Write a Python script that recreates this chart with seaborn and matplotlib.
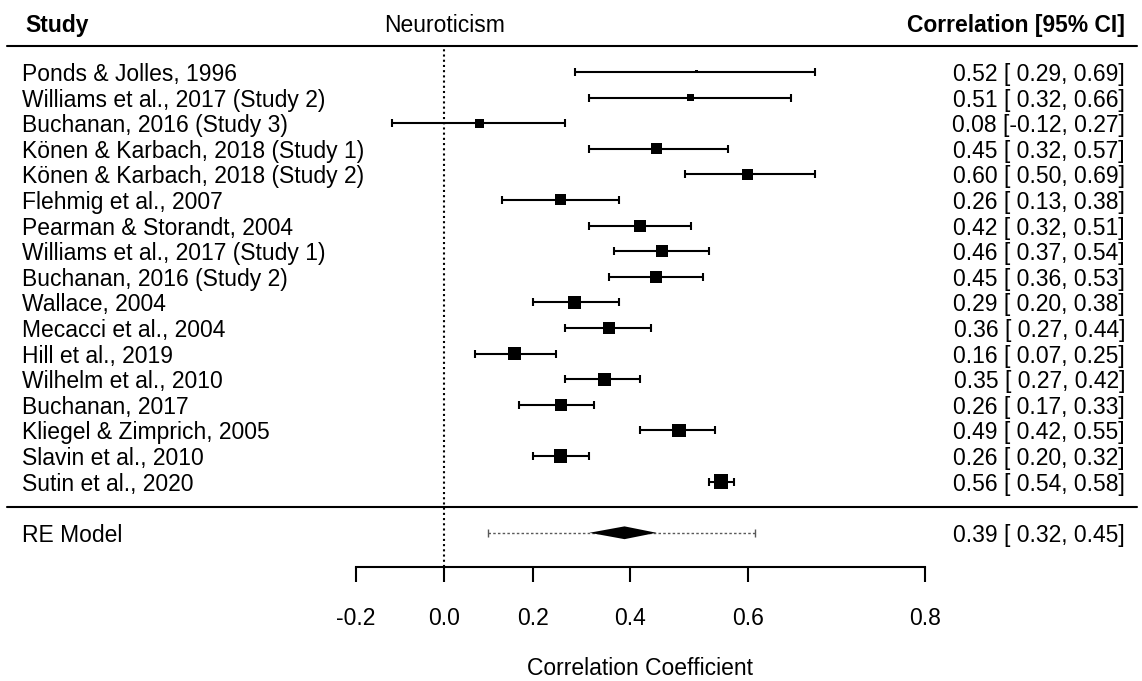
"""
Forest plot: neuroticism and correlation coefficients (random-effects meta-analysis).
x axis uses a Fisher-z scale, labels shown back on the correlation scale.
"""

import numpy as np
import pandas as pd
import matplotlib.pyplot as plt
import seaborn as sns


# Data

studies = [
    "Ponds & Jolles, 1996",
    "Williams et al., 2017 (Study 2)",
    "Buchanan, 2016 (Study 3)",
    "Könen & Karbach, 2018 (Study 1)",
    "Könen & Karbach, 2018 (Study 2)",
    "Flehmig et al., 2007",
    "Pearman & Storandt, 2004",
    "Williams et al., 2017 (Study 1)",
    "Buchanan, 2016 (Study 2)",
    "Wallace, 2004",
    "Mecacci et al., 2004",
    "Hill et al., 2019",
    "Wilhelm et al., 2010",
    "Buchanan, 2017",
    "Kliegel & Zimprich, 2005",
    "Slavin et al., 2010",
    "Sutin et al., 2020",
]
est = [0.52, 0.51, 0.08, 0.45, 0.60, 0.26, 0.42, 0.46, 0.45,
       0.29, 0.36, 0.16, 0.35, 0.26, 0.49, 0.26, 0.56]
ci_lo = [0.29, 0.32, -0.12, 0.32, 0.50, 0.13, 0.32, 0.37, 0.36,
         0.20, 0.27, 0.07, 0.27, 0.17, 0.42, 0.20, 0.54]
ci_hi = [0.69, 0.66, 0.27, 0.57, 0.69, 0.38, 0.51, 0.54, 0.53,
         0.38, 0.44, 0.25, 0.42, 0.33, 0.55, 0.32, 0.58]
weights = [0.4, 2.0, 3.5, 5.0, 5.0, 5.3, 6.3, 6.3, 6.3,
           7.4, 6.8, 7.4, 7.4, 6.6, 7.7, 7.7, 8.9]

re_label = "RE Model"
re_est, re_lo, re_hi = 0.39, 0.32, 0.45
pi_lo, pi_hi = 0.10, 0.61

x_ticks = [-0.2, 0.0, 0.2, 0.4, 0.6, 0.8]


# Layout constants

FONT = 16.5
Z_LEFT, Z_RIGHT = -1.015, 1.594      # figure edges on the Fisher-z scale
Y_BOTTOM, Y_TOP = -6.79, 19.81       # figure edges in row units
AXIS_ROW = -2.32
HEADER_ROW = 18.9


def fz(v):
    return np.arctanh(np.clip(v, -0.999999, 0.999999))


def fz_inv(v):
    return np.tanh(v)


def ci_text(e, lo, hi):
    return f"{e:.2f} [{lo:5.2f}, {hi:.2f}]"


sns.set_theme(style="ticks")
plt.rcParams["font.family"] = ["Liberation Sans", "DejaVu Sans"]
plt.rcParams["text.color"] = "black"
plt.rcParams["axes.edgecolor"] = "black"
plt.rcParams["xtick.color"] = "black"
plt.rcParams["axes.labelcolor"] = "black"

k = len(studies)
df = pd.DataFrame({
    "study": studies,
    "est": est,
    "lo": ci_lo,
    "hi": ci_hi,
    "weight": weights,
    "row": np.arange(k, 0, -1),
})

fig = plt.figure(figsize=(11.42, 6.81), dpi=100)
ax = fig.add_axes([0, 0, 1, 1])
ax.set_xscale("function", functions=(fz, fz_inv))
ax.set_xlim(np.tanh(Z_LEFT), np.tanh(Z_RIGHT))
ax.set_ylim(Y_BOTTOM, Y_TOP)

# confidence intervals
ax.errorbar(df["est"], df["row"],
            xerr=[df["est"] - df["lo"], df["hi"] - df["est"]],
            fmt="none", ecolor="black", elinewidth=1.5,
            capsize=2.6, capthick=1.5, zorder=2)

# weighted squares
w_min, w_max = min(weights), max(weights)
sns.scatterplot(data=df, x="est", y="row", size="weight",
                sizes=(w_min * 11.9, w_max * 11.9), size_norm=(w_min, w_max),
                marker="s", color="black", linewidth=0, legend=False,
                ax=ax, zorder=3)

# RE model: prediction interval + diamond
ax.plot([pi_lo, pi_hi], [-1, -1], ls=(0, (1.8, 1.6)), color="0.35", lw=1.0, zorder=2)
ax.plot([pi_lo, pi_hi], [-1, -1], ls="none", marker="|", ms=6, mew=1.0,
        color="0.35", zorder=2)
ax.fill([re_lo, re_est, re_hi, re_est], [-1, -0.75, -1, -1.25],
        color="black", lw=0, zorder=3)

# reference lines
ax.plot([0, 0], [AXIS_ROW, 18], ls=(0, (1, 1.5)), color="black", lw=1.5, zorder=1)
for r in (18, 0):
    ax.axhline(r, xmin=7 / 1142, xmax=1137 / 1142, color="black", lw=1.5)

# text columns
tr = ax.get_yaxis_transform()
x_left, x_right = 22 / 1142, 1125 / 1142
for s, e, lo, hi, r in zip(df["study"], df["est"], df["lo"], df["hi"], df["row"]):
    ax.text(x_left, r, s, transform=tr, ha="left", va="center_baseline", fontsize=FONT)
    ax.text(x_right, r, ci_text(e, lo, hi), transform=tr,
            ha="right", va="center_baseline", fontsize=FONT)
ax.text(x_left, -1, re_label, transform=tr, ha="left", va="center_baseline", fontsize=FONT)
ax.text(x_right, -1, ci_text(re_est, re_lo, re_hi), transform=tr,
        ha="right", va="center_baseline", fontsize=FONT)

# headers
ax.text(25 / 1142, HEADER_ROW, "Study", transform=tr, ha="left",
        va="center_baseline", fontsize=FONT, fontweight="bold")
ax.text(0, HEADER_ROW, "Neuroticism", ha="center", va="center_baseline", fontsize=FONT)
ax.text(x_right, HEADER_ROW, "Correlation [95% CI]", transform=tr, ha="right",
        va="center_baseline", fontsize=FONT, fontweight="bold")

# x axis drawn only over the tick range
for side in ("left", "right", "top"):
    ax.spines[side].set_visible(False)
ax.spines["bottom"].set_position(("data", AXIS_ROW))
ax.spines["bottom"].set_bounds(x_ticks[0], x_ticks[-1])
ax.spines["bottom"].set_linewidth(1.5)
ax.set_yticks([])
ax.set_xticks(x_ticks)
ax.set_xticklabels([f"{t:.1f}" for t in x_ticks])
ax.tick_params(axis="x", direction="out", length=10.8, width=1.5, pad=18,
               labelsize=FONT, bottom=True)
ax.set_ylabel("")
ax.set_xlabel("Correlation Coefficient", fontsize=FONT)
ends = ax.transData.transform([[x_ticks[0], 0], [x_ticks[-1], 0]])
mid = ax.transAxes.inverted().transform([[ends[:, 0].mean(), 0]])[0, 0]
ax.xaxis.set_label_coords(mid, (681 - 657) / 681)

fig.savefig("out.png", dpi=100)
